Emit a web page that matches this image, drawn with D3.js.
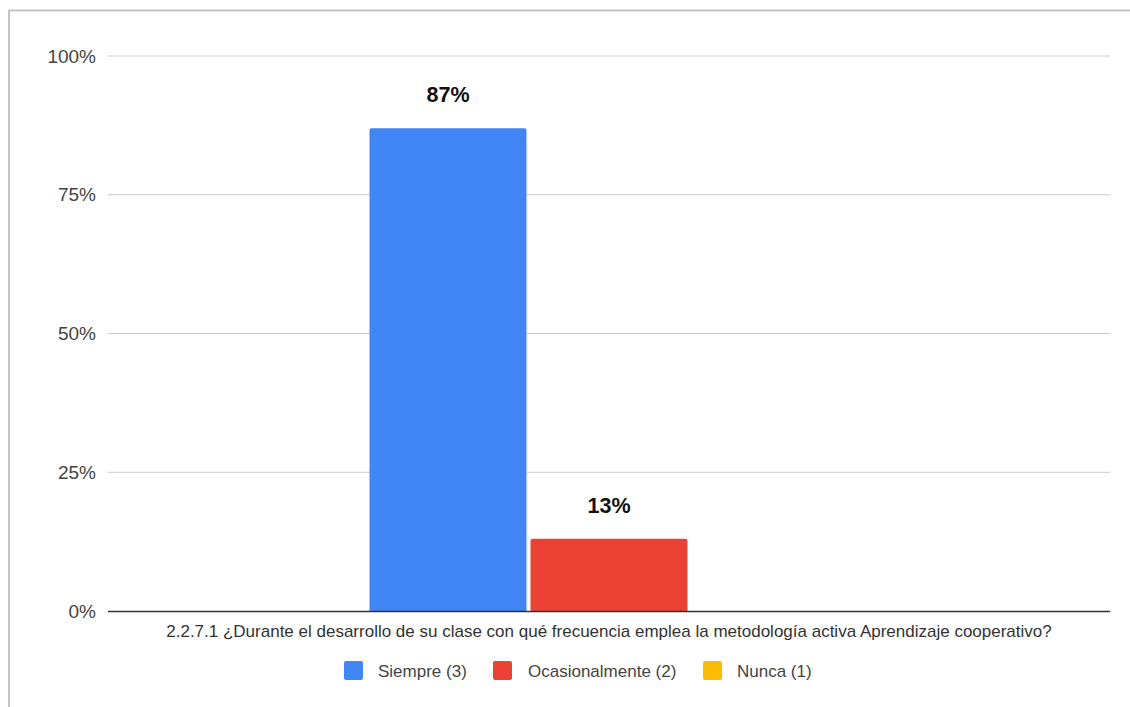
<!DOCTYPE html>
<html>
<head>
<meta charset="utf-8">
<script src="https://cdn.jsdelivr.net/npm/d3@7"></script>
<style>
  html, body { margin: 0; padding: 0; background: #fff; }
  svg { display: block; font-family: "Liberation Sans", Arial, sans-serif; }
</style>
</head>
<body>
<svg id="chart" width="1130" height="707"></svg>
<script>
// Survey question, answer options and share of responses
const question = "2.2.7.1 ¿Durante el desarrollo de su clase con qué frecuencia emplea la metodología activa Aprendizaje cooperativo?";
const seriesNames = ["Siempre (3)", "Ocasionalmente (2)", "Nunca (1)"];
const seriesValues = [0.87, 0.13, 0];
const seriesColors = ["#4285f4", "#ea4335", "#fbbc04"];
const yTicks = [0, 0.25, 0.5, 0.75, 1];

const svg = d3.select("#chart");

// outer frame (left and top edges visible)
svg.append("rect").attr("x", 9).attr("y", 10.5).attr("width", 1140).attr("height", 720)
  .attr("fill", "none").attr("stroke", "#c4c4c4").attr("stroke-width", 2);

const plotLeft = 108, plotRight = 1110, plotTop = 56, plotBottom = 611;

const y = d3.scaleLinear().domain([0, 1]).range([plotBottom, plotTop]);
const x0 = d3.scaleBand().domain([question]).range([plotLeft, plotRight]).paddingInner(0).paddingOuter(0.546);
const x1 = d3.scaleBand().domain(seriesNames).range([0, x0.bandwidth()]).paddingInner(0.025);

// gridlines
svg.append("g").selectAll("line").data(yTicks.filter(t => t > 0)).join("line")
  .attr("x1", plotLeft).attr("x2", plotRight)
  .attr("y1", d => y(d)).attr("y2", d => y(d))
  .attr("stroke", "#cccccc").attr("stroke-width", 1);

// y axis labels
const yAxis = d3.axisLeft(y).tickValues(yTicks).tickFormat(d3.format(".0%")).tickSize(0).tickPadding(12);
const gy = svg.append("g").attr("transform", `translate(${plotLeft},0)`).call(yAxis);
gy.select(".domain").remove();
gy.selectAll("text").attr("font-size", 19).attr("fill", "#444").attr("font-family", "Liberation Sans, Arial, sans-serif");

// bars
const grp = svg.append("g").attr("transform", `translate(${x0(question)},0)`);
grp.selectAll("path").data(seriesNames.map((n, i) => ({ n, v: seriesValues[i], c: seriesColors[i] })).filter(d => d.v > 0))
  .join("path")
  .attr("fill", d => d.c)
  .attr("d", d => {
    const bx = x1(d.n), bw = x1.bandwidth(), by = y(d.v), r = 2;
    return `M${bx},${plotBottom}V${by + r}Q${bx},${by} ${bx + r},${by}H${bx + bw - r}Q${bx + bw},${by} ${bx + bw},${by + r}V${plotBottom}Z`;
  });

// value labels
grp.selectAll("text.val").data(seriesNames.map((n, i) => ({ n, v: seriesValues[i] })).filter(d => d.v > 0))
  .join("text").attr("class", "val")
  .attr("x", d => x1(d.n) + x1.bandwidth() / 2)
  .attr("y", d => y(d.v) - 26)
  .attr("text-anchor", "middle")
  .attr("font-size", 21.5).attr("font-weight", "bold").attr("fill", "#111")
  .text(d => d3.format(".0%")(d.v));

// baseline
svg.append("line").attr("x1", plotLeft).attr("x2", plotRight).attr("y1", plotBottom + 0.5).attr("y2", plotBottom + 0.5)
  .attr("stroke", "#333").attr("stroke-width", 1.5);

// category label
svg.append("text").attr("x", (plotLeft + plotRight) / 2).attr("y", 637)
  .attr("text-anchor", "middle").attr("font-size", 17).attr("fill", "#333").text(question);

// legend
const legendPos = [
  { x: 344, tx: 378 },
  { x: 493, tx: 528 },
  { x: 703, tx: 737 }
];
const lg = svg.append("g");
seriesNames.forEach((n, i) => {
  lg.append("rect").attr("x", legendPos[i].x).attr("y", 661).attr("width", 19).attr("height", 19).attr("rx", 2)
    .attr("fill", seriesColors[i]);
  lg.append("text").attr("x", legendPos[i].tx).attr("y", 676.5).attr("font-size", 17).attr("fill", "#444").text(n);
});
</script>
</body>
</html>
